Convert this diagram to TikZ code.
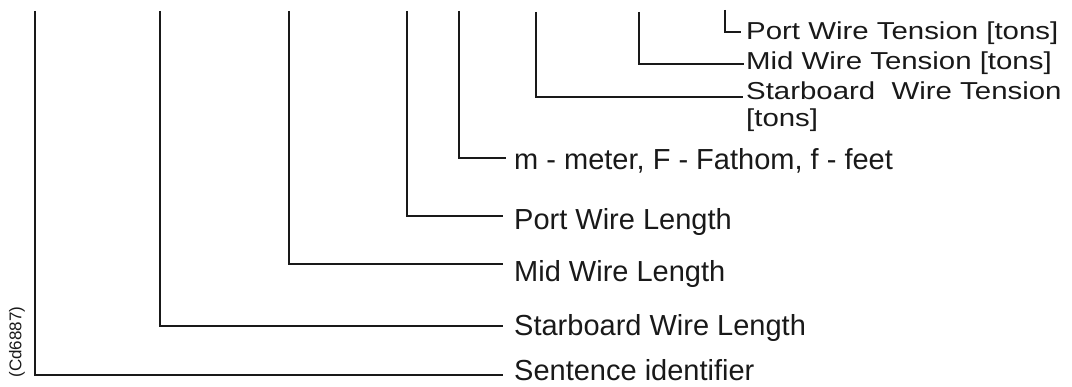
\documentclass[tikz,border=0pt]{standalone}
\usepackage{fontspec}
\setmainfont{Liberation Sans}
\definecolor{ink}{gray}{0.1}
\begin{document}
\begin{tikzpicture}[x=1pt,y=-1pt,
  lead/.style={draw=ink,line width=1.3pt},
  bigtext/.style={anchor=base west,inner sep=0pt,text=ink,font=\fontsize{29}{32}\selectfont},
  toptext/.style={anchor=base west,inner sep=0pt,text=ink,font=\fontsize{24.5}{30}\selectfont},
  tagtext/.style={inner sep=0pt,text=ink,font=\fontsize{17}{20}\selectfont,rotate=90}]
\useasboundingbox (0,0) rectangle (1072,387);

% field labels, upper group (stretched lettering)
\node[toptext] (pwt) at (746,40) {\scalebox{1.2}[1]{Port Wire Tension [tons]}};
\node[toptext] (mwt) at (746,70) {\scalebox{1.2}[1]{Mid Wire Tension [tons]}};
\node[toptext] (swt) at (746,100) {\scalebox{1.2}[1]{Starboard\ \ Wire Tension}};
\node[toptext] (swt2) at (746,127) {\scalebox{1.2}[1]{[tons]}};

% field labels, lower group
\node[bigtext] (unit) at (514,170) {m - meter, F - Fathom, f - feet};
\node[bigtext] (pwl) at (514,230) {Port Wire Length};
\node[bigtext] (mwl) at (514,282) {Mid Wire Length};
\node[bigtext] (swl) at (514,336) {Starboard Wire Length};
\node[bigtext] (sid) at (514,381) {Sentence identifier};

\node[tagtext] (tag) at (17,342) {(Cd6887)};

% tops of the leader lines
\coordinate (t-sid)  at (35,11);
\coordinate (t-swl)  at (160,11);
\coordinate (t-mwl)  at (289,11);
\coordinate (t-pwl)  at (407,11);
\coordinate (t-unit) at (459,11);
\coordinate (t-swt)  at (536,12);
\coordinate (t-mwt)  at (639,12);
\coordinate (t-pwt)  at (725,10);

% ends of the leader lines, just left of each label
\coordinate (e-sid)  at (503,375);
\coordinate (e-swl)  at (503,326);
\coordinate (e-mwl)  at (503,264);
\coordinate (e-pwl)  at (503,216);
\coordinate (e-unit) at (506,158);
\coordinate (e-swt)  at (743,97);
\coordinate (e-mwt)  at (744,64);
\coordinate (e-pwt)  at (741,32);

\draw[lead] (t-sid)  |- (e-sid);
\draw[lead] (t-swl)  |- (e-swl);
\draw[lead] (t-mwl)  |- (e-mwl);
\draw[lead] (t-pwl)  |- (e-pwl);
\draw[lead] (t-unit) |- (e-unit);
\draw[lead] (t-swt)  |- (e-swt);
\draw[lead] (t-mwt)  |- (e-mwt);
\draw[lead] (t-pwt)  |- (e-pwt);
\end{tikzpicture}
\end{document}
